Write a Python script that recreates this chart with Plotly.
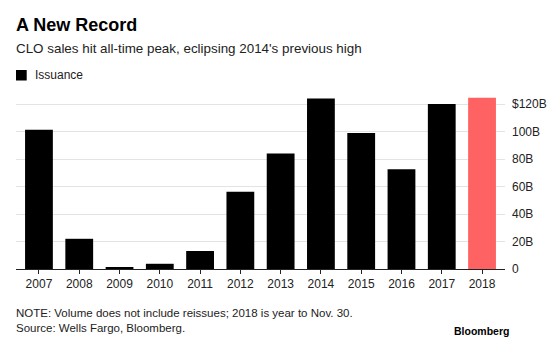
import plotly.graph_objects as go

years = ["2007", "2008", "2009", "2010", "2011", "2012", "2013", "2014", "2015", "2016", "2017", "2018"]
issuance = [101.5, 22, 1.2, 3.8, 13.1, 56.3, 84.2, 124.1, 99.1, 72.6, 120.2, 124.8]
bar_colors = ["#000000"] * 11 + ["#ff6262"]
ytick_vals = [0, 20, 40, 60, 80, 100, 120]
ytick_text = ["0", "20B", "40B", "60B", "80B", "100B", "$120B"]

W, H = 560, 342
L, R, T, B = 16, 55, 96, 73
PW, PH = W - L - R, H - T - B

def px(x):
    return (x - L) / PW

def py(y):
    return (H - B - y) / PH

FONT = "Liberation Sans, Arial, sans-serif"

fig = go.Figure()
fig.add_trace(go.Bar(
    x=list(range(len(years))), y=issuance, marker=dict(color=bar_colors, line=dict(width=0)),
    name="Issuance", showlegend=False, hoverinfo="x+y",
))

fig.update_layout(
    width=W, height=H,
    margin=dict(l=L, r=R, t=T, b=B),
    paper_bgcolor="white", plot_bgcolor="white",
    bargap=0.31,
    font=dict(family=FONT, size=12, color="#222"),
    xaxis=dict(
        range=[-0.57, 11.57], tickmode="array", tickvals=list(range(len(years))), ticktext=years,
        showgrid=False, zeroline=False, showline=True, linecolor="#222", linewidth=1,
        ticks="outside", ticklen=4, tickcolor="#222", tickwidth=1,
        tickfont=dict(family=FONT, size=12, color="#222"), fixedrange=True,
    ),
    yaxis=dict(
        range=[0, 126], side="right", tickmode="array", tickvals=ytick_vals, ticktext=ytick_text,
        showgrid=True, gridcolor="#e3e3e3", gridwidth=1, zeroline=False, showline=False,
        ticks="", ticklabelstandoff=6,
        tickfont=dict(family=FONT, size=12, color="#222"), fixedrange=True,
    ),
    shapes=[dict(type="rect", xref="paper", yref="paper",
                 x0=px(16), x1=px(26.7), y0=py(80.5), y1=py(70),
                 fillcolor="#000000", line=dict(width=0))],
    annotations=[
        dict(text="<b>A New Record</b>", x=px(14), y=py(25), xref="paper", yref="paper",
             xanchor="left", yanchor="middle", showarrow=False,
             font=dict(family=FONT, size=18, color="#000")),
        dict(text="CLO sales hit all-time peak, eclipsing 2014's previous high", x=px(14), y=py(48.5),
             xref="paper", yref="paper", xanchor="left", yanchor="middle", showarrow=False,
             font=dict(family=FONT, size=13.4, color="#222")),
        dict(text="Issuance", x=px(32.5), y=py(75), xref="paper", yref="paper",
             xanchor="left", yanchor="middle", showarrow=False,
             font=dict(family=FONT, size=12, color="#222")),
        dict(text="NOTE: Volume does not include reissues; 2018 is year to Nov. 30.", x=px(14), y=py(313),
             xref="paper", yref="paper", xanchor="left", yanchor="middle", showarrow=False,
             font=dict(family=FONT, size=11.5, color="#222")),
        dict(text="Source: Wells Fargo, Bloomberg.", x=px(14), y=py(328),
             xref="paper", yref="paper", xanchor="left", yanchor="middle", showarrow=False,
             font=dict(family=FONT, size=11.5, color="#222")),
        dict(text="<b>Bloomberg</b>", x=px(511), y=py(331), xref="paper", yref="paper",
             xanchor="right", yanchor="middle", showarrow=False,
             font=dict(family=FONT, size=10.5, color="#000")),
    ],
)

fig.write_html("out.html", config={"displayModeBar": False})
